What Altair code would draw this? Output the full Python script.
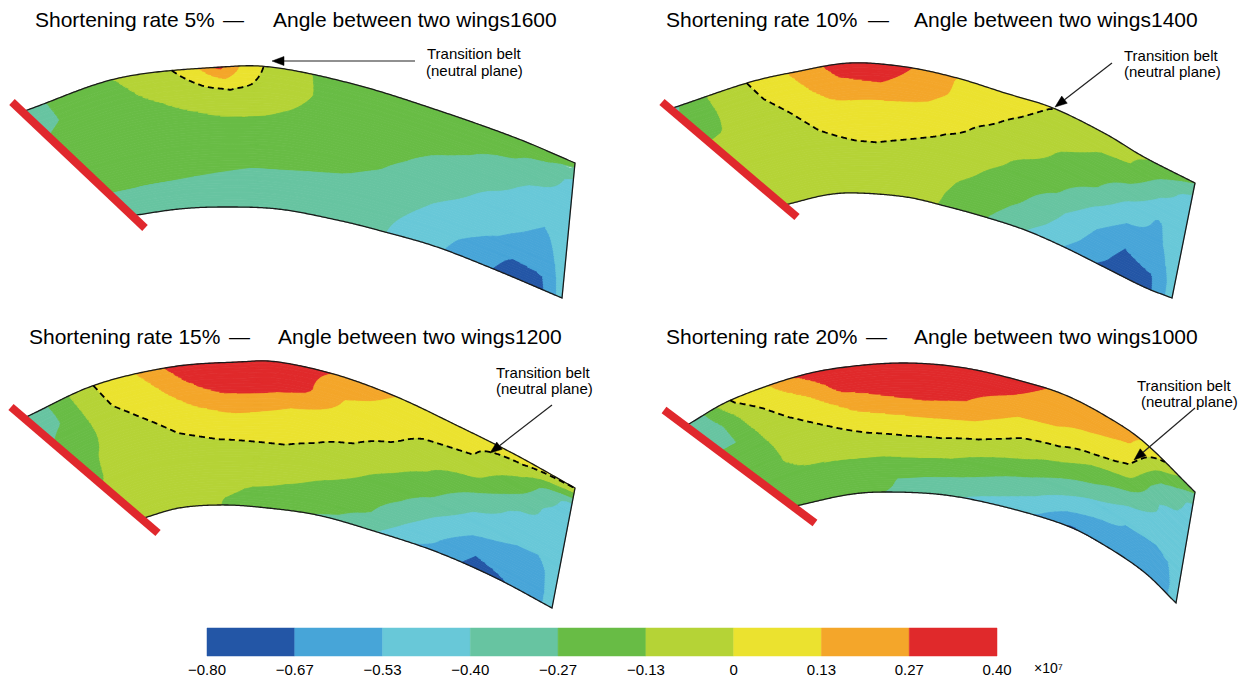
import numpy as np
import altair as alt

FONT = "Liberation Sans"

# ---------------- colour bar (stress, x10^7) ----------------
CB_COLORS = ["#2356a6", "#47a5d8", "#68c8d8", "#67c4a1", "#68bc45",
             "#b5d336", "#ebe22f", "#f4a62a", "#e0292b"]
CB_EDGES = [-0.80, -0.6667, -0.5333, -0.40, -0.2667, -0.1333, 0.0, 0.1333, 0.2667, 0.40]
CB_LABELS = ["\u22120.80", "\u22120.67", "\u22120.53", "\u22120.40", "\u22120.27",
             "\u22120.13", "0", "0.13", "0.27", "0.40"]
CB_UNIT = "\u00d710\u2077"

# ---------------- panel texts ----------------
TITLE_LEFT = ["Shortening rate 5%", "Shortening rate 10%", "Shortening rate 15%", "Shortening rate 20%"]
TITLE_DASH = "\u2014"
TITLE_RIGHT = ["Angle between two wings1600", "Angle between two wings1400",
               "Angle between two wings1200", "Angle between two wings1000"]
TITLE_LEFT_X = [35, 666, 29, 666]
TITLE_DASH_X = [223, 868, 229, 866]
TITLE_RIGHT_X = [273, 914, 278, 914]
TITLE_Y = [21, 21, 338, 338]
NOTE1 = "Transition belt"
NOTE2 = "(neutral plane)"
NOTE1_X = [427, 1124, 496, 1137]
NOTE1_Y = [54, 56, 373, 386]
NOTE2_X = [426, 1124, 496, 1141]
NOTE2_Y = [71, 72, 389, 402]
ARROW_FROM = [(415, 61), (1112, 63), (552, 405), (1195, 408)]
ARROW_TO = [(272, 61), (1055, 107), (490, 453), (1134, 460)]

# ---------------- band geometry (picture coordinates) ----------------
TOP = [
    [(28, 108), (119, 78), (222, 67), (278, 68), (357, 85), (437, 110), (516, 138), (575, 163)],
    [(675, 106), (747, 83), (795, 72), (850, 63), (906, 67), (957, 78), (1005, 93), (1053, 108),
     (1104, 133), (1144, 157), (1195, 183)],
    [(30, 413), (95, 385), (171, 367), (238, 362), (278, 362), (337, 375), (397, 397), (456, 425),
     (516, 455), (575, 488)],
    [(690, 422), (731, 400), (795, 377), (846, 367), (906, 363), (965, 368), (1025, 382), (1065, 395),
     (1104, 415), (1144, 442), (1195, 492)],
]
BOTTOM = [
    [(135, 216), (179, 209), (222, 207), (278, 209), (337, 220), (385, 232), (437, 247), (496, 270), (562, 298)],
    [(789, 202), (826, 195), (858, 193), (906, 197), (945, 206), (985, 217), (1025, 230), (1064, 247),
     (1104, 267), (1144, 287), (1172, 298)],
    [(147, 515), (179, 508), (218, 505), (258, 507), (317, 515), (377, 532), (437, 552), (496, 578), (552, 608)],
    [(799, 503), (846, 495), (886, 492), (945, 495), (1005, 507), (1065, 525), (1104, 545), (1144, 572), (1176, 603)],
]
PLATE = [[(12, 102), (145, 228)], [(662, 102), (797, 217)], [(11, 407), (158, 533)], [(664, 410), (815, 523)]]
PLATE_WIDTH = 8

# ---------------- stress fields ----------------
# values in colour-bar steps (1 step = 0.1333 x10^7) above -0.80 x10^7,
# rows: across the band (top -> bottom), columns: along the band (plate -> free end)
V_KNOTS = [0, .15, .3, .45, .6, .75, .9, 1]

U1 = [0, .05, .1, .17, .25, .3, .35, .4, .45, .52, .6, .7, .8, .88, .95, 1]
P1_STEPS = [
    [3.5, 4.15, 4.6, 5.05, 5.7, 6.6, 8.3, 6.5, 5.6, 4.95, 4.8, 4.7, 4.6, 4.4, 4.5, 4.4],
    [3.8, 4.1, 4.6, 4.9, 5.4, 5.8, 6.05, 5.8, 5.3, 4.9, 4.7, 4.5, 4.25, 4.05, 3.6, 2.7],
    [4.2, 4.5, 4.5, 4.6, 4.95, 5.1, 5.15, 5.1, 4.95, 4.7, 4.55, 4.2, 3.85, 3.2, 2.8, 2.55],
    [4.5, 4.5, 4.5, 4.5, 4.6, 4.7, 4.7, 4.7, 4.6, 4.5, 4.3, 3.8, 3.15, 2.8, 2.3, 2.5],
    [4.4, 4.4, 4.4, 4.4, 4.4, 4.35, 4.3, 4.3, 4.25, 4.15, 3.9, 3.3, 2.8, 2.3, 1.85, 2.5],
    [4.1, 4.1, 4.07, 4.05, 3.98, 3.9, 3.85, 3.85, 3.85, 3.75, 3.5, 2.85, 2.3, 1.8, 1.5, 2.5],
    [3.7, 3.7, 3.7, 3.7, 3.7, 3.75, 3.75, 3.75, 3.6, 3.55, 3.05, 2.35, 1.6, 0.85, 1.0, 2.5],
    [3.5, 3.5, 3.5, 3.5, 3.5, 3.5, 3.5, 3.5, 3.5, 3.45, 2.8, 2.1, 1.3, 0.5, 0.85, 2.45],
]
U2 = [0, .03, .07, .14, .2, .26, .3, .37, .45, .52, .6, .7, .8, .87, .94, 1]
P2_STEPS = [
    [3.7, 4.5, 5.1, 6.0, 6.8, 7.6, 8.4, 8.8, 7.95, 7.05, 6.6, 6.05, 5.7, 5.3, 4.8, 4.1],
    [4.6, 4.7, 5.2, 5.95, 6.6, 7.3, 7.8, 7.95, 7.4, 6.8, 6.2, 5.7, 5.05, 4.9, 3.55, 2.6],
    [4.9, 5.0, 5.3, 5.7, 6.3, 6.8, 6.8, 6.8, 6.7, 6.2, 5.8, 5.1, 4.6, 3.8, 2.7, 2.5],
    [5.3, 5.4, 5.5, 5.5, 6.05, 6.4, 6.5, 6.25, 6.05, 5.8, 5.15, 4.8, 3.9, 2.7, 1.9, 2.5],
    [5.5, 5.5, 5.5, 5.5, 5.7, 5.9, 5.95, 5.85, 5.7, 5.2, 4.8, 4.15, 2.8, 1.9, 1.8, 2.5],
    [5.5, 5.5, 5.5, 5.5, 5.5, 5.8, 5.7, 5.8, 5.15, 4.8, 4.3, 3.2, 1.95, 1.1, 1.5, 2.5],
    [5.5, 5.5, 5.5, 5.5, 5.5, 5.6, 5.6, 5.3, 4.7, 4.3, 3.6, 2.6, 1.4, 0.6, 0.9, 2.5],
    [5.5, 5.5, 5.5, 5.5, 5.5, 5.5, 5.5, 5.05, 4.5, 3.85, 3.05, 2.05, 0.95, 0.5, 0.8, 2.5],
]
U3 = [0, .04, .08, .13, .2, .27, .33, .4, .47, .55, .63, .7, .8, .9, .95, 1]
P3_STEPS = [
    [3.5, 4.0, 5.0, 6.1, 7.0, 8.4, 8.8, 8.9, 8.5, 7.95, 7.2, 6.7, 6.3, 6.45, 6.25, 6.05],
    [3.8, 4.05, 5.1, 6.05, 6.6, 7.8, 8.45, 8.6, 8.4, 7.05, 6.7, 6.35, 6.05, 4.95, 3.6, 2.6],
    [4.15, 4.5, 5.2, 5.8, 6.3, 6.95, 7.3, 7.15, 6.9, 6.5, 6.2, 5.6, 5.3, 3.8, 2.9, 2.5],
    [4.6, 5.0, 5.4, 5.5, 6.0, 6.25, 6.3, 6.35, 6.15, 5.95, 5.45, 5.0, 3.95, 2.7, 2.8, 2.5],
    [4.85, 5.3, 5.5, 5.5, 5.6, 5.7, 5.75, 5.8, 5.7, 5.2, 4.75, 4.2, 2.9, 2.3, 2.2, 2.5],
    [5.3, 5.5, 5.5, 5.5, 5.5, 5.3, 5.3, 5.2, 4.95, 4.6, 3.9, 3.1, 2.05, 1.7, 1.7, 2.5],
    [5.5, 5.5, 5.5, 5.5, 5.15, 4.9, 4.8, 4.6, 4.3, 3.9, 2.9, 2.2, 1.05, 1.3, 1.5, 2.5],
    [5.5, 5.5, 5.5, 5.5, 4.85, 4.6, 4.4, 4.0, 3.8, 3.05, 2.1, 1.7, 0.6, 1.1, 1.5, 2.5],
]
U4 = [0, .03, .06, .09, .15, .21, .27, .35, .42, .5, .6, .68, .76, .84, .92, .96, 1]
P4_STEPS = [
    [3.5, 3.9, 5.05, 6.1, 6.8, 8.05, 8.7, 9.0, 9.2, 8.9, 8.6, 7.95, 7.45, 7.45, 6.1, 5.0, 4.2],
    [3.75, 3.8, 4.4, 5.6, 6.35, 7.1, 8.2, 8.5, 8.7, 8.45, 7.9, 7.4, 7.2, 6.8, 4.4, 3.6, 2.6],
    [3.95, 3.95, 4.5, 5.3, 5.95, 6.4, 7.2, 7.7, 7.9, 7.8, 6.9, 6.9, 6.5, 5.7, 3.1, 3.0, 2.5],
    [4.4, 4.45, 4.6, 5.2, 5.6, 5.95, 6.3, 6.5, 6.7, 6.6, 5.9, 5.7, 4.85, 4.2, 2.9, 2.7, 2.5],
    [4.5, 4.6, 4.9, 5.2, 5.3, 5.5, 5.6, 5.75, 5.7, 5.4, 4.95, 4.4, 3.8, 2.9, 2.3, 2.3, 2.5],
    [4.5, 4.5, 4.5, 4.8, 4.85, 4.85, 4.8, 4.85, 4.75, 4.3, 3.8, 3.2, 2.5, 1.95, 1.9, 2.0, 2.5],
    [4.5, 4.5, 4.5, 4.5, 4.5, 4.5, 3.95, 3.8, 3.6, 3.3, 2.7, 1.9, 1.5, 1.7, 1.7, 1.75, 2.5],
    [4.5, 4.5, 4.5, 4.5, 4.5, 4.05, 3.7, 3.2, 2.95, 2.5, 1.9, 0.9, 1.0, 1.4, 1.7, 1.8, 2.5],
]
U_KNOTS = [U1, U2, U3, U4]
STEPS = [P1_STEPS, P2_STEPS, P3_STEPS, P4_STEPS]
STEP = 1.2 / 9.0


# ---------------- helpers ----------------
def catmull(points, n=24):
    P = np.array(points, float)
    P = np.vstack([2 * P[0] - P[1], P, 2 * P[-1] - P[-2]])
    out = []
    for i in range(1, len(P) - 2):
        p0, p1, p2, p3 = P[i - 1], P[i], P[i + 1], P[i + 2]
        for t in np.linspace(0, 1, n, endpoint=False):
            out.append(0.5 * (2 * p1 + (-p0 + p2) * t + (2 * p0 - 5 * p1 + 4 * p2 - p3) * t * t
                              + (-p0 + 3 * p1 - 3 * p2 + p3) * t ** 3))
    out.append(P[-2])
    return np.array(out)


def resample(points, n=1200):
    c = catmull(points)
    d = np.r_[0, np.cumsum(np.hypot(*np.diff(c, axis=0).T))]
    d /= d[-1]
    g = np.linspace(0, 1, n + 1)
    return np.stack([np.interp(g, d, c[:, 0]), np.interp(g, d, c[:, 1])], -1)


class Band:
    def __init__(self, top, bottom):
        self.t = resample(top)
        self.b = resample(bottom)
        self.g = np.linspace(0, 1, len(self.t))

    def pt(self, u, v):
        u = np.atleast_1d(np.asarray(u, float))
        v = np.broadcast_to(np.asarray(v, float), u.shape)
        tx = np.interp(u, self.g, self.t[:, 0]); ty = np.interp(u, self.g, self.t[:, 1])
        bx = np.interp(u, self.g, self.b[:, 0]); by = np.interp(u, self.g, self.b[:, 1])
        return np.stack([(1 - v) * tx + v * bx, (1 - v) * ty + v * by], -1)


def field(U, G, u, v):
    U = np.asarray(U, float); V = np.asarray(V_KNOTS, float); G = np.asarray(G, float)
    u = np.asarray(u, float); v = np.broadcast_to(np.asarray(v, float), u.shape)
    iu = np.clip(np.searchsorted(U, u, side="right") - 1, 0, len(U) - 2)
    iv = np.clip(np.searchsorted(V, v, side="right") - 1, 0, len(V) - 2)
    fu = (u - U[iu]) / (U[iu + 1] - U[iu]); fv = (v - V[iv]) / (V[iv + 1] - V[iv])
    return ((1 - fv) * ((1 - fu) * G[iv, iu] + fu * G[iv, iu + 1])
            + fv * ((1 - fu) * G[iv + 1, iu] + fu * G[iv + 1, iu + 1]))


def ring(arr):
    return [[round(float(x), 2), round(float(y), 2)] for x, y in arr]


def polygon(coords, stress=None):
    return {"type": "Feature", "properties": {"stress": stress},
            "geometry": {"type": "Polygon", "coordinates": [coords]}}


def linestring(coords):
    return {"type": "Feature", "properties": {},
            "geometry": {"type": "LineString", "coordinates": coords}}


def on_plate(p, plate, inside):
    """put a band corner against the inner face of the clamping plate"""
    p0 = np.array(plate[0], float); p1 = np.array(plate[1], float)
    d = (p1 - p0) / np.hypot(*(p1 - p0)); n = np.array([d[1], -d[0]])
    if np.dot(np.array(inside, float) - p0, n) < 0:
        n = -n
    q = p0 + np.dot(np.array(p, float) - p0, d) * d + (PLATE_WIDTH / 2 - 1) * n
    return (float(q[0]), float(q[1]))


# ---------------- build geometry ----------------
bands = []
for top, bot, plate in zip(TOP, BOTTOM, PLATE):
    inside = top[len(top) // 2]
    top2 = [on_plate(top[0], plate, inside)] + list(top[1:])
    bot2 = [on_plate(bot[0], plate, inside)] + list(bot[1:])
    bands.append(Band(top2, bot2))

cells, outlines, neutral = [], [], []
NU, NV = 600, 56
us = np.linspace(0, 1, NU + 1)
vs = np.linspace(0, 1, NV + 1)


def runs_at(U, G, v):
    L = field(U, G, us, v)
    lev = np.clip(np.floor(L), 0, 8).astype(int)
    bounds, levels = [0.0], [int(lev[0])]
    for k in np.nonzero(lev[1:] != lev[:-1])[0]:
        a, b = lev[k], lev[k + 1]
        thr = (min(a, b) + 1 + max(a, b)) / 2.0
        t = np.clip((thr - L[k]) / (L[k + 1] - L[k]), 0, 1)
        bounds.append(float(us[k] + t * (us[k + 1] - us[k])))
        levels.append(int(b))
    bounds.append(1.0)
    return bounds, levels


def side(band, ua, ub, v):
    lo, hi = min(ua, ub), max(ua, ub)
    inner = us[(us > lo + 1e-6) & (us < hi - 1e-6)][::10]
    uu = np.r_[lo, inner, hi]
    if ua > ub:
        uu = uu[::-1]
    return band.pt(uu, v)


def add_cell(band, ta, tb, v0, ba, bb, v1, lv):
    a = side(band, ta, tb, v0)
    b = side(band, bb, ba, v1)
    pts = np.vstack([a, b, a[:1]])
    cells.append(polygon(ring(pts), -0.8 + (lv + 0.5) * STEP))


def strip(band, U, G, v0, v1, r0, r1, depth):
    (b0, l0), (b1, l1) = r0, r1
    if l0 == l1:
        for r, lv in enumerate(l0):
            add_cell(band, b0[r], b0[r + 1], v0, b1[r], b1[r + 1], v1, lv)
    elif depth < 3:
        vm = 0.5 * (v0 + v1)
        rm = runs_at(U, G, vm)
        strip(band, U, G, v0, vm, r0, rm, depth + 1)
        strip(band, U, G, vm, v1, rm, r1, depth + 1)
    else:
        bm, lm = runs_at(U, G, 0.5 * (v0 + v1))
        for r, lv in enumerate(lm):
            add_cell(band, bm[r], bm[r + 1], v0, bm[r], bm[r + 1], v1, lv)


for band, U, G in zip(bands, U_KNOTS, STEPS):
    line_runs = [runs_at(U, G, v) for v in vs]
    for j in range(NV):
        strip(band, U, G, vs[j], vs[j + 1], line_runs[j], line_runs[j + 1], 0)
    # outline: top edge, free end, bottom edge (the clamped end is under the plate)
    uu = np.linspace(0, 1, 300)
    out = np.vstack([band.pt(uu, 0.0), band.pt(uu[::-1], 1.0)])
    outlines.append(linestring(ring(out)))
    # zero-stress line (neutral plane)
    uf = np.linspace(0, 1, 801); vf = np.linspace(0, 1, 601)
    L0 = field(U, G, uf, 0.0)
    cur = []
    for k, u in enumerate(uf):
        if L0[k] >= 6:
            if not cur and k > 0:
                ue = uf[k - 1] + (6 - L0[k - 1]) / (L0[k] - L0[k - 1]) * (uf[k] - uf[k - 1])
                cur.append(band.pt(ue, 0.0)[0])
            col = field(U, G, np.full_like(vf, u), vf)
            idx = int(np.argmax(col < 6))
            if col[idx] < 6 and idx > 0:
                t = (col[idx - 1] - 6) / (col[idx - 1] - col[idx])
                v = vf[idx - 1] + t * (vf[idx] - vf[idx - 1])
            else:
                v = 1.0
            cur.append(band.pt(u, v)[0])
        elif cur:
            ue = uf[k - 1] + (L0[k - 1] - 6) / (L0[k - 1] - L0[k]) * (uf[k] - uf[k - 1])
            cur.append(band.pt(ue, 0.0)[0])
            neutral.append(linestring(ring(cur)))
            cur = []
    if cur:
        neutral.append(linestring(ring(cur)))

# colour bar
CB_X0, CB_X1, CB_Y0, CB_Y1, CB_LY = 207, 997, 628, 656, 670
def cbx(s):
    return CB_X0 + (s - CB_EDGES[0]) / (CB_EDGES[-1] - CB_EDGES[0]) * (CB_X1 - CB_X0)
bar = []
for i in range(9):
    x0, x1 = cbx(CB_EDGES[i]), cbx(CB_EDGES[i + 1])
    bar.append(polygon([[x0, CB_Y0], [x1, CB_Y0], [x1, CB_Y1], [x0, CB_Y1], [x0, CB_Y0]],
                       0.5 * (CB_EDGES[i] + CB_EDGES[i + 1])))

plates = [linestring([list(p[0]), list(p[1])]) for p in PLATE]
shafts, heads = [], []
for (x0, y0), (x1, y1) in zip(ARROW_FROM, ARROW_TO):
    d = np.array([x1 - x0, y1 - y0], float); d /= np.hypot(*d)
    n = np.array([-d[1], d[0]])
    tip = np.array([x1, y1], float); base = tip - 12 * d
    shafts.append(linestring([[x0, y0], [float(base[0]), float(base[1])]]))
    tri = [tip, base + 4.5 * n, base - 4.5 * n, tip]
    heads.append(polygon(ring(tri)))

texts_title = ([{"lon": x, "lat": y, "t": s} for x, y, s in zip(TITLE_LEFT_X, TITLE_Y, TITLE_LEFT)]
               + [{"lon": x, "lat": y, "t": TITLE_DASH} for x, y in zip(TITLE_DASH_X, TITLE_Y)]
               + [{"lon": x, "lat": y, "t": s} for x, y, s in zip(TITLE_RIGHT_X, TITLE_Y, TITLE_RIGHT)])
texts_note = ([{"lon": x, "lat": y, "t": NOTE1} for x, y in zip(NOTE1_X, NOTE1_Y)]
              + [{"lon": x, "lat": y, "t": NOTE2} for x, y in zip(NOTE2_X, NOTE2_Y)])
texts_cb = [{"lon": cbx(s), "lat": CB_LY, "t": lab} for s, lab in zip(CB_EDGES, CB_LABELS)]
texts_unit = [{"lon": 1034, "lat": CB_LY - 1, "t": CB_UNIT}]

# ---------------- chart ----------------
PROJ = dict(type="identity", scale=1, translate=[0, 0])
cscale = alt.Scale(type="quantize", domain=[CB_EDGES[0], CB_EDGES[-1]], range=CB_COLORS, nice=False)

contours = alt.Chart(alt.Data(values=cells)).mark_geoshape(strokeWidth=0.8).encode(
    fill=alt.Fill("properties.stress:Q", scale=cscale, legend=None),
    stroke=alt.Stroke("properties.stress:Q", scale=cscale, legend=None),
).project(**PROJ)

colorbar = alt.Chart(alt.Data(values=bar)).mark_geoshape(strokeWidth=0.5).encode(
    fill=alt.Fill("properties.stress:Q", scale=cscale, legend=None),
    stroke=alt.Stroke("properties.stress:Q", scale=cscale, legend=None),
).project(**PROJ)

outline_layer = alt.Chart(alt.Data(values=outlines)).mark_geoshape(
    filled=False, fillOpacity=0, stroke="#1a1a1a", strokeWidth=1.3).project(**PROJ)

neutral_layer = alt.Chart(alt.Data(values=neutral)).mark_geoshape(
    filled=False, fillOpacity=0, stroke="black", strokeWidth=1.8, strokeDash=[6, 4]).project(**PROJ)

plate_layer = alt.Chart(alt.Data(values=plates)).mark_geoshape(
    filled=False, fillOpacity=0, stroke="#e0282d", strokeWidth=PLATE_WIDTH, strokeCap="butt").project(**PROJ)

shaft_layer = alt.Chart(alt.Data(values=shafts)).mark_geoshape(
    filled=False, fillOpacity=0, stroke="#222222", strokeWidth=1.2).project(**PROJ)

head_layer = alt.Chart(alt.Data(values=heads)).mark_geoshape(
    fill="black", stroke="black", strokeWidth=0.5).project(**PROJ)


def text_layer(rows, size, align):
    return alt.Chart(alt.Data(values=rows)).mark_text(
        font=FONT, fontSize=size, align=align, baseline="middle", color="black"
    ).encode(longitude="lon:Q", latitude="lat:Q", text="t:N").project(**PROJ)


chart = alt.layer(
    contours, colorbar, outline_layer, neutral_layer, plate_layer, shaft_layer, head_layer,
    text_layer(texts_title, 21, "left"),
    text_layer(texts_note, 15, "left"),
    text_layer(texts_cb, 15, "center"),
    text_layer(texts_unit, 14, "left"),
).properties(width=1248, height=683, padding=0, autosize="none", background="white"
).configure_view(strokeWidth=0)

chart.save("out.html", embed_options={"renderer": "svg", "actions": False})
